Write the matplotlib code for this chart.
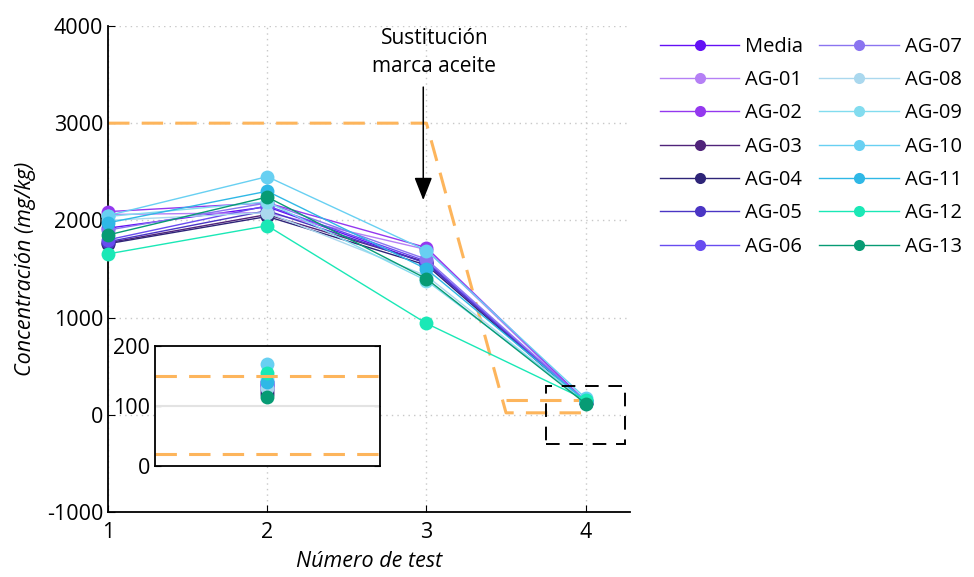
import matplotlib.pyplot as plt
from matplotlib.patches import Rectangle

plt.rcParams['font.family'] = ['Open Sans', 'DejaVu Sans']
plt.rcParams['axes.unicode_minus'] = False

tests = [1, 2, 3, 4]
series = ["Media", "AG-01", "AG-02", "AG-03", "AG-04", "AG-05", "AG-06",
          "AG-07", "AG-08", "AG-09", "AG-10", "AG-11", "AG-12", "AG-13"]
colors = ["#6410f5", "#b580f5", "#9438ef", "#50237a", "#2e2478", "#4a35c4", "#684cf0",
          "#8a74f0", "#aad8ee", "#82dcef", "#68d0f2", "#2fb8e6", "#1ae8b6", "#079b74"]
values = [
    [1920, 2140, 1560, 135],
    [2060, 2080, 1700, 130],
    [2090, 2180, 1720, 140],
    [1770, 2060, 1570, 125],
    [1760, 2040, 1540, 120],
    [1780, 2100, 1560, 130],
    [1800, 2150, 1580, 135],
    [1900, 2180, 1600, 140],
    [2000, 2080, 1430, 130],
    [2040, 2190, 1380, 145],
    [2050, 2450, 1690, 170],
    [1975, 2300, 1500, 140],
    [1655, 1945, 940, 155],
    [1850, 2240, 1400, 115],
]
# limit path (orange dashed)
lim_x = [1, 3, 3.5, 4]
lim_y = [3000, 3000, 20, 20]
lim2_x = [3.5, 4]
lim2_y = [150, 150]
orange = "#fdb55c"

fig = plt.figure(figsize=(9.74, 5.77), dpi=100)
ax = fig.add_axes([0.111, 0.1127, 0.536, 0.8423])

for name, c, v in zip(series, colors, values):
    ax.plot(tests, v, color=c, lw=1.0, marker='o', ms=10, mec='none',
            label=name, clip_on=False, zorder=3)

ax.plot(lim_x, lim_y, color=orange, lw=2.2, dashes=(7, 4))
ax.plot(lim2_x, lim2_y, color=orange, lw=2.2, dashes=(7, 4))
ax.add_patch(Rectangle((3.75, -300), 0.5, 600, fill=False, ec='black',
                       lw=1.4, ls=(0, (7, 5)), zorder=5))

ax.annotate("", xy=(2.98, 2180), xytext=(2.98, 3400),
            arrowprops=dict(arrowstyle='-|>,head_length=1.4,head_width=0.55',
                            color='black', lw=1.1))
ax.text(3.05, 3730, "Sustitución\nmarca aceite", ha='center', va='center',
        fontsize=15, linespacing=1.45)

ax.set_xlim(1, 4.28)
ax.set_ylim(-1000, 4000)
ax.set_xticks(tests)
ax.set_yticks([-1000, 0, 1000, 2000, 3000, 4000])
ax.tick_params(direction='in', labelsize=15.5, length=5)
ax.tick_params(axis='x', pad=7)
ax.grid(True, ls=(0, (1, 3)), color='#c8c8c8', lw=1)
ax.spines['top'].set_visible(False)
ax.spines['right'].set_visible(False)
ax.spines['left'].set_linewidth(1.3)
ax.spines['bottom'].set_linewidth(1.3)
ax.set_xlabel("Número de test", fontsize=15.5, style='italic', labelpad=6)
ax.set_ylabel("Concentración (mg/kg)", fontsize=15.5, style='italic', labelpad=8)

ax.legend(loc='upper left', bbox_to_anchor=(1.022, 1.015), ncol=2, frameon=False,
          fontsize=14.5, handlelength=3.95, handletextpad=0.3, columnspacing=0.8,
          labelspacing=0.66, markerscale=0.8)

# inset
ins = fig.add_axes([0.159, 0.1924, 0.231, 0.208])
ins.axhline(100, color='#e3e3e3', lw=1.5)
for name, c, v in zip(series, colors, values):
    ins.plot(tests[3], v[3], color=c, marker='o', ms=10, mec='none')
ins.plot([3.5, 4.5], [150, 150], color=orange, lw=2.2, dashes=(7, 4))
ins.plot([3.5, 4.5], [20, 20], color=orange, lw=2.2, dashes=(7, 4))
ins.set_xlim(3.5, 4.5)
ins.set_ylim(0, 200)
ins.set_xticks([])
ins.set_yticks([0, 100, 200])
ins.tick_params(direction='in', labelsize=15.5, length=4, right=True)
for s in ins.spines.values():
    s.set_linewidth(1.3)

fig.savefig("out.png", dpi=100)
